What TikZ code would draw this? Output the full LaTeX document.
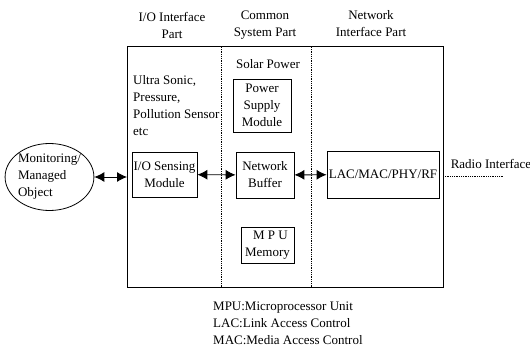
\documentclass[tikz,border=0pt]{standalone}
\usepackage{fontspec}
\setmainfont{Liberation Serif}
\usetikzlibrary{arrows.meta,calc,positioning,shapes}

\begin{document}
\begin{tikzpicture}[x=1pt,y=-1pt,>={Latex[length=10pt,width=10pt]},font=\fontsize{13}{17}\selectfont]
	\tikzstyle{block} = [draw, rectangle, line width=0.8pt, align=center, inner sep=1pt]
	\tikzstyle{part} = [align=center]
	\tikzstyle{divider} = [densely dotted, line width=0.8pt]
	\useasboundingbox (0,0) rectangle (530,353);
	
	% frame and the three parts
	\draw[line width=1pt] (127,47) rectangle (443,287);
	\coordinate (frame) at (127,47);
	\coordinate (frameend) at (443,287);
	\draw[divider] (221,47) -- (221,287);
	\draw[divider] (311,47) -- (311,287);
	
	\node[part] (iopart) at (172,25) {I/O Interface\\Part};
	\node[part] (cspart) at (265,25) {Common\\System Part};
	\node[part] (nipart) at (371,24) {Network\\Interface Part};
	
	% common system part
	\node (solar) at (268,64) {Solar Power};
	\node[block, minimum width=58, minimum height=53] (psm) at (262,105.5) {Power\\Supply\\Module};
	\node[block, minimum width=58, minimum height=46] (netbuf) at (265,175) {Network\\Buffer};
	\node[block, minimum width=53, minimum height=36] (mpu) at (267.5,245) {\hspace*{6pt}M P U\\Memory};
	
	% i/o interface part
	\node[align=left, anchor=north west, inner sep=0pt] (sensor) at (133,75) {Ultra Sonic,\\Pressure,\\Pollution Sensor\\etc};
	\node[block, minimum width=65, minimum height=45] (iosense) at (164.5,174.5) {I/O Sensing\\Module};
	
	% network interface part
	\node[block, minimum width=112, minimum height=47] (lac) at (383,174.5) {LAC/MAC/PHY/RF};
	\node (radio) at (491,164) {Radio Interface};
	\coordinate (radioend) at (503,176);
	
	% managed object
	\node[draw, ellipse, line width=0.8pt, minimum width=85, minimum height=67, align=left, inner sep=0pt] (obj) at (49.5,177) {Monitoring/\\Managed\\Object};
	
	\draw [<->, line width=0.9pt] (obj.east) -- (obj.east -| frame);
	\draw [<->, line width=0.9pt] (iosense) -- (netbuf);
	\draw [<->, line width=0.9pt] (netbuf) -- (lac);
	\draw [densely dotted, line width=0.8pt] (radioend -| frameend) -- (radioend);
	
	% legend
	\node[align=left, anchor=north west, inner sep=0pt] (legend) at (213,302) {MPU:Microprocessor Unit\\LAC:Link Access Control\\MAC:Media Access Control};
	
\end{tikzpicture}
\end{document}
